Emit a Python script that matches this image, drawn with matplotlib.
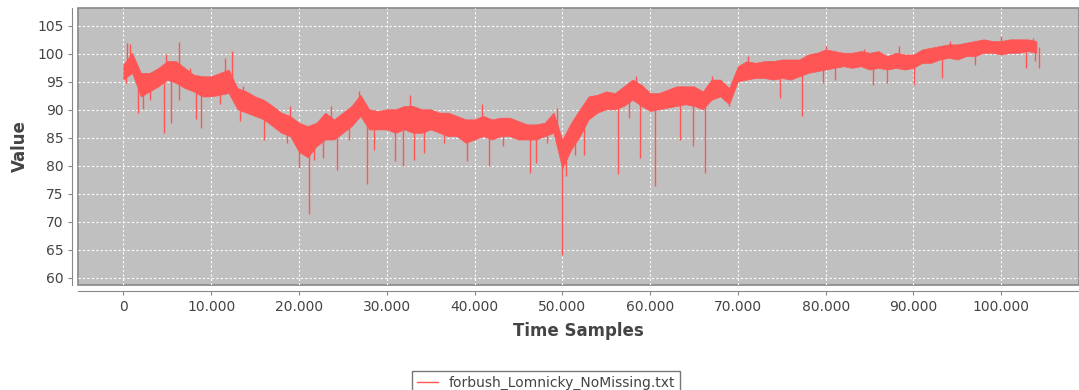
import matplotlib
matplotlib.use("Agg")
import matplotlib.pyplot as plt
from matplotlib.ticker import FuncFormatter, MultipleLocator
import numpy as np

# dense core of the trace, read every 1000 samples (low / high edge)
sample_pos = list(range(0, 105000, 1000))
band_low = [95.4, 96.6, 92.4, 93.3, 94.2, 95.4, 94.8, 93.9, 93.3, 92.4,
            92.4, 92.7, 93.0, 90.1, 89.5, 88.9, 88.3, 87.1, 85.9, 85.3,
            82.5, 81.5, 83.5, 84.7, 84.7, 85.9, 87.1, 88.9, 86.5, 86.5,
            86.5, 85.9, 86.5, 85.9, 85.9, 86.5, 85.9, 85.3, 85.3, 84.1,
            84.7, 85.3, 84.7, 85.3, 85.3, 84.7, 84.7, 84.7, 85.3, 85.9,
            79.5, 82.9, 85.3, 88.3, 89.5, 90.1, 90.1, 90.7, 91.8, 90.7,
            89.8, 90.1, 90.4, 90.7, 91.0, 90.7, 90.1, 91.8, 92.4, 91.0,
            95.1, 95.4, 95.7, 95.7, 95.4, 95.7, 95.4, 96.0, 96.6, 96.9,
            97.2, 97.5, 97.8, 97.5, 97.8, 97.2, 97.5, 97.2, 97.5, 97.2,
            97.5, 98.4, 98.4, 99.0, 99.3, 99.0, 99.6, 99.6, 100.2, 100.2,
            99.9, 100.2, 100.2, 100.5, 100.2]
band_high = [98.1, 100.2, 96.6, 96.6, 97.5, 98.7, 98.7, 97.5, 96.3, 96.0,
             96.0, 96.6, 97.2, 93.9, 93.3, 92.4, 91.8, 90.7, 89.5, 88.9,
             87.7, 87.1, 87.7, 89.5, 88.3, 89.5, 90.7, 92.7, 90.1, 89.8,
             90.1, 90.1, 90.7, 90.7, 90.1, 90.1, 89.5, 89.5, 88.9, 88.3,
             88.3, 88.9, 88.3, 88.6, 88.6, 88.0, 87.4, 87.4, 87.7, 89.5,
             84.7, 87.7, 90.1, 92.4, 92.7, 93.3, 93.0, 94.2, 95.4, 94.5,
             93.0, 93.0, 93.6, 94.2, 94.2, 94.2, 93.3, 95.4, 95.4, 93.9,
             97.8, 98.7, 98.4, 98.7, 98.7, 99.0, 99.0, 99.0, 99.9, 100.2,
             100.8, 100.5, 100.2, 100.2, 100.5, 100.2, 100.5, 99.6, 100.2, 99.9,
             99.9, 100.8, 101.1, 101.4, 101.7, 101.7, 102.0, 102.3, 102.6, 102.3,
             102.3, 102.6, 102.6, 102.6, 102.3]

# single samples that stick out of the core
spike_pos = [300, 460, 760, 1700, 2300, 3000, 4600, 4900, 5400, 6300,
             6350, 7600, 8300, 8900, 11000, 11600, 12400, 13300, 13600, 16000,
             18600, 19000, 20000, 21200, 21700, 22800, 23600, 24300, 25700, 26800,
             27700, 28500, 31000, 31800, 32600, 33100, 34200, 36500, 39100, 40800,
             41700, 43300, 46300, 47000, 48300, 49400, 50000, 50400, 51500, 52500,
             52900, 56350, 57600, 58400, 58900, 60600, 63400, 64900, 66300, 67100,
             69000, 71200, 74800, 77300, 79700, 80000, 81100, 84400, 85400, 87000,
             88400, 90100, 93200, 94200, 97000, 100000, 102800, 103600, 103800, 104300]
spike_val = [94.8, 102.0, 101.7, 89.5, 90.1, 91.8, 85.9, 99.9, 87.7, 91.8,
             102.1, 97.5, 88.3, 86.8, 91.0, 99.3, 100.5, 88.0, 94.2, 84.7,
             84.1, 90.7, 79.6, 71.3, 81.1, 81.4, 90.7, 79.3, 84.7, 93.3,
             76.7, 82.9, 80.8, 79.9, 92.7, 81.1, 82.3, 84.1, 80.8, 91.0,
             79.9, 83.5, 78.8, 80.5, 84.1, 90.4, 64.0, 78.2, 82.0, 82.0,
             92.1, 78.5, 88.6, 96.0, 81.4, 76.4, 84.7, 83.5, 78.8, 96.0,
             90.7, 99.7, 92.1, 88.9, 94.8, 101.4, 95.4, 100.8, 94.5, 94.8,
             101.4, 94.5, 95.7, 102.3, 98.1, 103.2, 97.5, 102.9, 98.7, 97.5]

series_name = "forbush_Lomnicky_NoMissing.txt"
line_color = "#ff5555"

fig = plt.figure(figsize=(10.79, 3.90), dpi=100)
ax = fig.add_axes([78 / 1079, 105 / 390, 1 - 78 / 1079, 277 / 390])
ax.set_facecolor("#c0c0c0")
ax.patch.set_edgecolor("#888888")
ax.patch.set_linewidth(1.2)

ax.fill_between(sample_pos, band_low, band_high, color=line_color, lw=0.5,
                edgecolor=line_color)
mid = np.interp(spike_pos, sample_pos, (np.array(band_low) + np.array(band_high)) / 2)
ax.vlines(spike_pos, mid, spike_val, color=line_color, lw=1.0)
ax.plot([], [], color=line_color, lw=1, label=series_name)

ax.set_xlim(-5160, 108850)
ax.set_ylim(58.7, 108.2)
ax.xaxis.set_major_locator(MultipleLocator(10000))
ax.yaxis.set_major_locator(MultipleLocator(5))
ax.xaxis.set_major_formatter(FuncFormatter(lambda v, p: f"{int(v):,}".replace(",", ".")))
ax.grid(True, color="white", ls=(0, (2, 2)), lw=0.8)
ax.set_axisbelow(True)

for s in ["top", "right"]:
    ax.spines[s].set_visible(False)
for s in ["left", "bottom"]:
    ax.spines[s].set_position(("outward", 4))
    ax.spines[s].set_color("#888888")
ax.tick_params(colors="#888888", labelcolor="#444444", labelsize=10, length=3)

ax.set_xlabel("Time Samples", fontsize=12, fontweight="bold", color="#444444", labelpad=6)
ax.set_ylabel("Value", fontsize=12, fontweight="bold", color="#444444", labelpad=6)

leg = fig.legend(loc="lower center", bbox_to_anchor=(0.506, -0.03), fontsize=10,
                 frameon=True, fancybox=False, handlelength=1.5, borderpad=0.35)
leg.get_frame().set_edgecolor("#555555")
for t in leg.get_texts():
    t.set_color("#444444")

fig.savefig("out.png", dpi=100)
